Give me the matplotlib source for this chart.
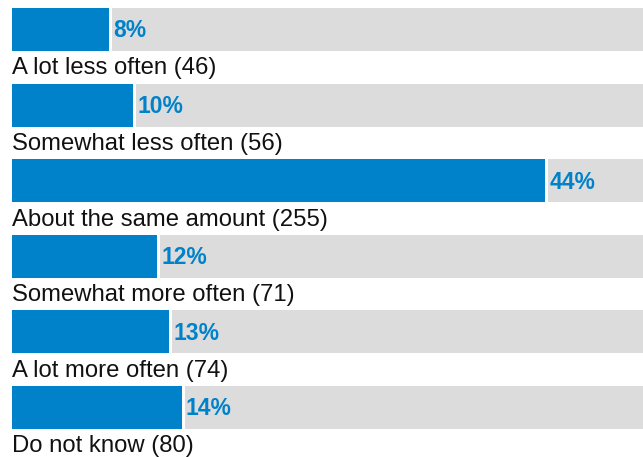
import matplotlib.pyplot as plt

categories = ["A lot less often", "Somewhat less often", "About the same amount",
              "Somewhat more often", "A lot more often", "Do not know"]
counts = [46, 56, 255, 71, 74, 80]
percents = [8, 10, 44, 12, 13, 14]

BLUE = "#0082ca"
GREY = "#dcdcdc"
XMAX = 52.1
GAP = 0.25
BAR_H = 0.57

plt.rcParams['font.family'] = ['Liberation Sans', 'DejaVu Sans']

fig = plt.figure(figsize=(6.43, 4.57), dpi=100)
ax = fig.add_axes([12 / 643, 0, 631 / 643, 1])

rows = list(range(len(categories)))
# grey track to the right of each value, then the blue value bar
ax.barh(rows, [XMAX - p - GAP for p in percents], left=[p + GAP for p in percents],
        height=BAR_H, color=GREY, linewidth=0)
ax.barh(rows, percents, height=BAR_H, color=BLUE, linewidth=0)

for i, (cat, n, p) in enumerate(zip(categories, counts, percents)):
    ax.text(p + GAP + 0.1, i + 0.02, f"{p}%", color=BLUE, fontsize=16.5,
            fontweight='bold', va='center')
    ax.text(0, i + BAR_H / 2 + 0.31, f"{cat} ({n})", color="#111111",
            fontsize=17.2, va='baseline', ha='left')

ax.set_xlim(0, XMAX)
ax.set_ylim(5.655, -0.390)
ax.axis('off')

fig.savefig("out.png", dpi=100, facecolor='white')
